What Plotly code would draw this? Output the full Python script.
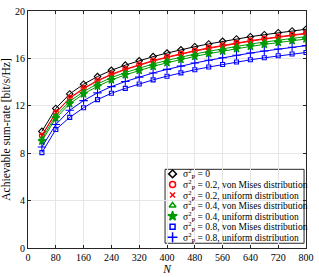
import plotly.graph_objects as go

N = [40, 80, 120, 160, 200, 240, 280, 320, 360, 400, 440, 480, 520, 560, 600, 640, 680, 720, 760, 800]

rate_s0 = [9.84, 11.78, 13.0, 13.82, 14.47, 15.0, 15.43, 15.8, 16.15, 16.45, 16.73, 16.99, 17.22, 17.44, 17.64, 17.83, 18.0, 18.17, 18.32, 18.46]
rate_s02_vm = [9.5, 11.44, 12.67, 13.49, 14.14, 14.67, 15.1, 15.48, 15.82, 16.12, 16.4, 16.66, 16.89, 17.11, 17.31, 17.5, 17.67, 17.84, 17.99, 18.13]
rate_s02_un = [9.46, 11.4, 12.62, 13.44, 14.09, 14.62, 15.05, 15.43, 15.77, 16.07, 16.35, 16.61, 16.84, 17.06, 17.26, 17.45, 17.62, 17.79, 17.94, 18.08]
rate_s04_vm = [9.22, 11.16, 12.38, 13.2, 13.85, 14.38, 14.81, 15.18, 15.53, 15.83, 16.11, 16.37, 16.6, 16.82, 17.02, 17.21, 17.38, 17.55, 17.7, 17.84]
rate_s04_un = [9.02, 10.96, 12.18, 13.0, 13.65, 14.18, 14.61, 14.98, 15.33, 15.63, 15.91, 16.17, 16.4, 16.62, 16.82, 17.01, 17.18, 17.35, 17.5, 17.64]
rate_s08_vm = [8.05, 10.0, 11.02, 11.84, 12.52, 13.06, 13.47, 13.84, 14.19, 14.5, 14.78, 15.04, 15.27, 15.49, 15.69, 15.88, 16.05, 16.22, 16.37, 16.5]
rate_s08_un = [8.52, 10.42, 11.62, 12.44, 13.09, 13.62, 14.05, 14.42, 14.77, 15.07, 15.35, 15.61, 15.84, 16.06, 16.26, 16.45, 16.62, 16.79, 16.94, 17.08]

x_ticks = [0, 80, 160, 240, 320, 400, 480, 560, 640, 720, 800]
y_ticks = [0, 4, 8, 12, 16, 20]

SIG = "σ<sup>2</sup><sub>P</sub>"
labels = [
    SIG + " = 0",
    SIG + " = 0.2, von Mises distribution",
    SIG + " = 0.2, uniform distribution",
    SIG + " = 0.4, von Mises distribution",
    SIG + " = 0.4, uniform distribution",
    SIG + " = 0.8, von Mises distribution",
    SIG + " = 0.8, uniform distribution",
]
series_values = [rate_s0, rate_s02_vm, rate_s02_un, rate_s04_vm, rate_s04_un, rate_s08_vm, rate_s08_un]
styles = [
    ("black", "diamond-open", 5),
    ("#ff0000", "circle-open", 5),
    ("#ff0000", "x-thin-open", 4),
    ("#009a00", "triangle-up-open", 5),
    ("#009a00", "star", 6),
    ("#0000ff", "square-open", 4),
    ("#0000ff", "cross-thin-open", 6),
]

fig = go.Figure()
for y, name, (color, sym, size) in zip(series_values, labels, styles):
    fig.add_trace(go.Scatter(
        x=N, y=y, mode="lines+markers", name=name, showlegend=False,
        line=dict(color=color, width=1),
        marker=dict(symbol=sym, size=size, color=color, line=dict(color=color, width=1.1)),
    ))

# ---- compact legend (layout in paper fractions of the plot area) ----
LEG_X0, LEG_X1, LEG_Y0, LEG_Y1 = 0.493, 0.993, 0.02, 0.332
row_h = (LEG_Y1 - LEG_Y0) / len(labels)
sym_x = 0.52
txt_x = 0.551
fig.add_shape(type="rect", xref="paper", yref="paper",
              x0=LEG_X0, x1=LEG_X1, y0=LEG_Y0, y1=LEG_Y1,
              fillcolor="white", line=dict(color="#262626", width=1), layer="between")
for i, (name, (color, sym, size)) in enumerate(zip(labels, styles)):
    yc = LEG_Y1 - row_h * (i + 0.5) + 0.003
    fig.add_trace(go.Scatter(
        x=[sym_x], y=[yc], xaxis="x2", yaxis="y2", mode="markers", showlegend=False,
        hoverinfo="skip",
        marker=dict(symbol=sym, size=size + 1, color=color, line=dict(color=color, width=1.5)),
    ))
    fig.add_annotation(x=txt_x, y=yc, xref="paper", yref="paper", text=name,
                       showarrow=False, xanchor="left", yanchor="middle",
                       font=dict(family="Liberation Serif", size=9.5, color="black"))

axis_common = dict(
    showline=True, linecolor="#262626", linewidth=1, mirror="ticks",
    ticks="inside", ticklen=3, tickcolor="#262626",
    showgrid=True, gridcolor="#e6e6e6", gridwidth=1, zeroline=False,
    tickfont=dict(family="Liberation Serif", size=10, color="black"),
)

fig.update_layout(
    width=319, height=277,
    margin=dict(l=27, r=8, t=5, b=28),
    plot_bgcolor="white", paper_bgcolor="white",
    font=dict(family="Liberation Serif", color="black"),
    xaxis=dict(range=[0, 800], tickvals=x_ticks, **axis_common,
               title=dict(text="<i>N</i>", font=dict(family="Liberation Serif", size=11.5), standoff=1)),
    yaxis=dict(range=[0, 20], tickvals=y_ticks, **axis_common,
               title=dict(text="Achievable sum-rate [bit/s/Hz]", font=dict(family="Liberation Serif", size=11.5), standoff=2)),
    xaxis2=dict(overlaying="x", range=[0, 1], visible=False, fixedrange=True),
    yaxis2=dict(overlaying="y", range=[0, 1], visible=False, fixedrange=True),
    showlegend=False,
)

fig.write_html("out.html", config={"displayModeBar": False},
               post_script="document.body.style.margin='0';document.body.style.overflow='hidden';")
